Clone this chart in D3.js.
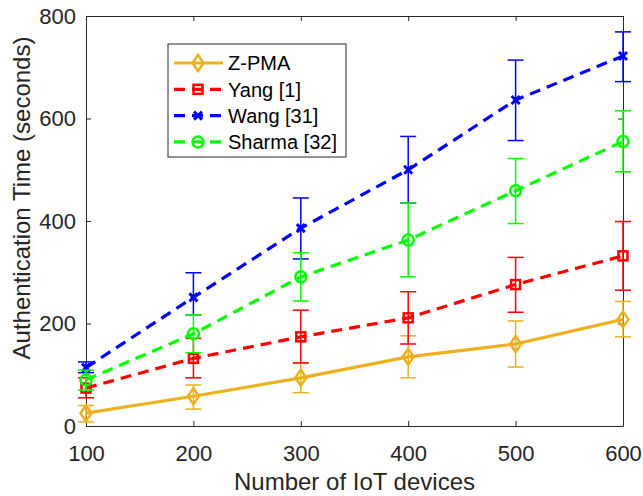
<!DOCTYPE html>
<html>
<head>
<meta charset="utf-8">
<script src="https://cdn.jsdelivr.net/npm/d3@7"></script>
<style>
  body { margin: 0; background: #fff; }
  svg { font-family: "Liberation Sans", Arial, sans-serif; }
</style>
</head>
<body>
<div id="chart"></div>
<script>
// Daten
const devices = [100, 200, 300, 400, 500, 600]
const yTicks = [0, 200, 400, 600, 800]

const zpma = [25, 58, 94, 135, 160, 208]
const zpmaLow = [8, 33, 65, 94, 115, 174]
const zpmaHigh = [40, 80, 123, 176, 205, 243]

const yang = [74, 132, 174, 211, 276, 332]
const yangLow = [55, 94, 123, 160, 222, 265]
const yangHigh = [94, 171, 226, 262, 329, 399]

const wang = [114, 251, 386, 500, 636, 722]
const wangLow = [104, 217, 326, 435, 557, 672]
const wangHigh = [125, 299, 445, 565, 714, 769]

const sharma = [90, 180, 291, 363, 459, 555]
const sharmaLow = [70, 143, 244, 291, 395, 496]
const sharmaHigh = [109, 217, 338, 435, 522, 615]

const series = [
  { name: "Z-PMA", vals: zpma, lo: zpmaLow, hi: zpmaHigh, color: "#EDB120", dash: null, marker: "diamond" },
  { name: "Yang [1]", vals: yang, lo: yangLow, hi: yangHigh, color: "#FF0000", dash: "11,7", marker: "square" },
  { name: "Wang [31]", vals: wang, lo: wangLow, hi: wangHigh, color: "#0000FF", dash: "11,7", marker: "x" },
  { name: "Sharma [32]", vals: sharma, lo: sharmaLow, hi: sharmaHigh, color: "#00FF00", dash: "11,7", marker: "circle" }
]

const W = 643, H = 496
const margin = { top: 16, right: 20, bottom: 70, left: 86 }
const width = W - margin.left - margin.right
const height = H - margin.top - margin.bottom
const axisColor = "#262626"

const svg = d3.select("#chart").append("svg")
  .attr("width", W)
  .attr("height", H)

const g = svg.append("g")
  .attr("transform", "translate(" + margin.left + "," + margin.top + ")")

const x = d3.scaleLinear().domain([100, 600]).range([0, width])
const y = d3.scaleLinear().domain([0, 800]).range([height, 0])

// Achsen, Ticks nach innen wie bei MATLAB
const xAxis = d3.axisBottom(x).tickValues(devices).tickSizeInner(-5).tickSizeOuter(0).tickPadding(19)
const yAxis = d3.axisLeft(y).tickValues(yTicks).tickSizeInner(-5).tickSizeOuter(0).tickPadding(10)

const gx = g.append("g")
  .attr("transform", "translate(0," + height + ")")
  .call(xAxis)
gx.selectAll("text").style("font-size", "22px").attr("fill", axisColor).attr("dy", "0.71em")

const gy = g.append("g").call(yAxis)
gy.selectAll("text").style("font-size", "22px").attr("fill", axisColor)

// obere und rechte Achse (Box)
g.append("g").call(d3.axisTop(x).tickValues(devices).tickSizeInner(-5).tickSizeOuter(0).tickFormat(""))
g.append("g").attr("transform", "translate(" + width + ",0)")
  .call(d3.axisRight(y).tickValues(yTicks).tickSizeInner(-5).tickSizeOuter(0).tickFormat(""))

g.selectAll(".domain").attr("stroke", axisColor).attr("stroke-width", 1)
g.selectAll(".tick line").attr("stroke", axisColor).attr("stroke-width", 1)

// Achsenbeschriftungen
svg.append("text")
  .attr("x", margin.left + width / 2)
  .attr("y", 490)
  .attr("text-anchor", "middle")
  .attr("fill", axisColor)
  .style("font-size", "24px")
  .text("Number of IoT devices")

svg.append("text")
  .attr("transform", "translate(30," + (margin.top + 182) + ") rotate(-90)")
  .attr("text-anchor", "middle")
  .attr("fill", axisColor)
  .style("font-size", "24px")
  .text("Authentication Time (seconds)")

function drawMarker(sel, type, color) {
  if (type === "diamond") {
    sel.append("path").attr("d", "M0,-8L5.5,0L0,8L-5.5,0Z")
      .attr("fill", "none").attr("stroke", color).attr("stroke-width", 2.5)
  } else if (type === "square") {
    sel.append("rect").attr("x", -4.5).attr("y", -4.5).attr("width", 9).attr("height", 9)
      .attr("fill", "none").attr("stroke", color).attr("stroke-width", 2.5)
  } else if (type === "x") {
    sel.append("path").attr("d", "M-4,-4L4,4M-4,4L4,-4")
      .attr("stroke", color).attr("stroke-width", 3)
  } else {
    sel.append("circle").attr("r", 5.5)
      .attr("fill", "none").attr("stroke", color).attr("stroke-width", 2.5)
  }
}

const line = d3.line()
  .x(function (d, i) { return x(devices[i]) })
  .y(function (d) { return y(d) })

series.forEach(function (s) {
  const sg = g.append("g")
  // Fehlerbalken
  devices.forEach(function (dv, i) {
    const cx = x(dv)
    sg.append("line").attr("x1", cx).attr("x2", cx).attr("y1", y(s.lo[i])).attr("y2", y(s.hi[i]))
      .attr("stroke", s.color).attr("stroke-width", 1.5)
    ;[s.lo[i], s.hi[i]].forEach(function (v) {
      sg.append("line").attr("x1", cx - 8).attr("x2", cx + 8).attr("y1", y(v)).attr("y2", y(v))
        .attr("stroke", s.color).attr("stroke-width", 1.5)
    })
  })
  sg.append("path")
    .datum(s.vals)
    .attr("d", line)
    .attr("fill", "none")
    .attr("stroke", s.color)
    .attr("stroke-width", 3.2)
    .attr("stroke-dasharray", s.dash)
  s.vals.forEach(function (v, i) {
    const m = sg.append("g").attr("transform", "translate(" + x(devices[i]) + "," + y(v) + ")")
    drawMarker(m, s.marker, s.color)
  })
})

// Legende
const lg = svg.append("g").attr("transform", "translate(168,44)")
lg.append("rect").attr("width", 178).attr("height", 113)
  .attr("fill", "#fff").attr("stroke", axisColor).attr("stroke-width", 1)

series.forEach(function (s, i) {
  const ly = 19 + i * 26.3
  lg.append("line").attr("x1", 6).attr("x2", 55).attr("y1", ly).attr("y2", ly)
    .attr("stroke", s.color).attr("stroke-width", 3.2).attr("stroke-dasharray", s.dash ? "11,7" : null)
  const m = lg.append("g").attr("transform", "translate(30," + ly + ")")
  drawMarker(m, s.marker, s.color)
  lg.append("text").attr("x", 60).attr("y", ly).attr("dy", "0.36em")
    .attr("fill", "#000").style("font-size", "20px").text(s.name)
})
</script>
</body>
</html>
